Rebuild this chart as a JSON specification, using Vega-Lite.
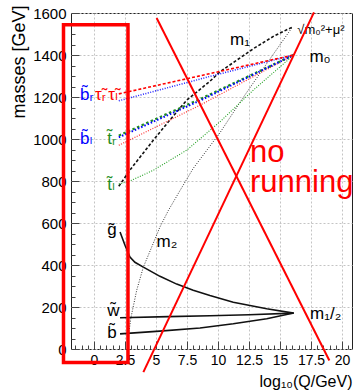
{
  "$schema": "https://vega.github.io/schema/vega-lite/v6.json",
  "width": 281,
  "height": 336,
  "autosize": {"type": "none"},
  "padding": {"left": 71, "top": 13, "right": 4, "bottom": 42},
  "config": {
    "view": {"stroke": "#222", "strokeWidth": 1},
    "font": "Liberation Sans, DejaVu Sans",
    "text": {"font": "Liberation Sans, DejaVu Sans"}
  },
  "datasets": {
    "curves": [
      {"s": "gluino", "x": 2.1, "y": 557}, {"s": "gluino", "x": 2.5, "y": 494}, {"s": "gluino", "x": 2.9, "y": 438},
      {"s": "gluino", "x": 3.3, "y": 413}, {"s": "gluino", "x": 3.98, "y": 390}, {"s": "gluino", "x": 5.32, "y": 346},
      {"s": "gluino", "x": 6.67, "y": 309}, {"s": "gluino", "x": 8.0, "y": 280}, {"s": "gluino", "x": 9.35, "y": 255},
      {"s": "gluino", "x": 11.23, "y": 223}, {"s": "gluino", "x": 13.93, "y": 192}, {"s": "gluino", "x": 16.1, "y": 171},
      {"s": "wino", "x": 2.1, "y": 149}, {"s": "wino", "x": 6.0, "y": 154}, {"s": "wino", "x": 9.35, "y": 158},
      {"s": "wino", "x": 12.5, "y": 163}, {"s": "wino", "x": 16.1, "y": 171},
      {"s": "bino", "x": 2.1, "y": 72}, {"s": "bino", "x": 5.3, "y": 85}, {"s": "bino", "x": 8.55, "y": 100},
      {"s": "bino", "x": 11.23, "y": 120}, {"s": "bino", "x": 13.93, "y": 144}, {"s": "bino", "x": 16.1, "y": 171},
      {"s": "m1", "x": 2.0, "y": 775}, {"s": "m1", "x": 3.0, "y": 860}, {"s": "m1", "x": 4.78, "y": 994},
      {"s": "m1", "x": 6.0, "y": 1082}, {"s": "m1", "x": 7.48, "y": 1185}, {"s": "m1", "x": 9.35, "y": 1275},
      {"s": "m1", "x": 10.16, "y": 1320}, {"s": "m1", "x": 12.85, "y": 1430}, {"s": "m1", "x": 14.5, "y": 1490},
      {"s": "m1", "x": 16.0, "y": 1533},
      {"s": "m2", "x": 2.72, "y": 0}, {"s": "m2", "x": 2.8, "y": 70}, {"s": "m2", "x": 2.96, "y": 144},
      {"s": "m2", "x": 3.44, "y": 279}, {"s": "m2", "x": 3.98, "y": 390}, {"s": "m2", "x": 4.65, "y": 485},
      {"s": "m2", "x": 5.32, "y": 581}, {"s": "m2", "x": 6.0, "y": 660}, {"s": "m2", "x": 6.94, "y": 755},
      {"s": "m2", "x": 8.0, "y": 860}, {"s": "m2", "x": 10.16, "y": 1030}, {"s": "m2", "x": 12.0, "y": 1195},
      {"s": "m2", "x": 14.0, "y": 1365}, {"s": "m2", "x": 16.0, "y": 1533},
      {"s": "taur", "x": 2.0, "y": 1215}, {"s": "taur", "x": 16.1, "y": 1400},
      {"s": "br", "x": 2.0, "y": 1182}, {"s": "br", "x": 9.35, "y": 1298}, {"s": "br", "x": 16.1, "y": 1400},
      {"s": "tr", "x": 2.0, "y": 1016}, {"s": "tr", "x": 8.55, "y": 1190}, {"s": "tr", "x": 16.1, "y": 1400},
      {"s": "bl", "x": 2.0, "y": 1008}, {"s": "bl", "x": 8.55, "y": 1183}, {"s": "bl", "x": 16.1, "y": 1400},
      {"s": "taul", "x": 2.0, "y": 970}, {"s": "taul", "x": 8.55, "y": 1161}, {"s": "taul", "x": 16.1, "y": 1400},
      {"s": "tl", "x": 2.0, "y": 785}, {"s": "tl", "x": 2.9, "y": 800}, {"s": "tl", "x": 4.78, "y": 851},
      {"s": "tl", "x": 7.48, "y": 947}, {"s": "tl", "x": 10.16, "y": 1082}, {"s": "tl", "x": 12.85, "y": 1233},
      {"s": "tl", "x": 16.1, "y": 1400}
    ],
    "cross": [
      {"line": "a", "x": 5.05, "y": 1576}, {"line": "a", "x": 18.98, "y": -55},
      {"line": "b", "x": 3.98, "y": -110}, {"line": "b", "x": 17.74, "y": 1603}
    ],
    "box": [{"x1": -2.46, "x2": 2.74, "y1": -64, "y2": 1544}],
    "labels": [
      {"t": "m\u2081", "x": 10.97, "y": 1447, "kind": "param"},
      {"t": "m\u2080", "x": 17.37, "y": 1368, "kind": "param"},
      {"t": "m\u2082", "x": 5.05, "y": 485, "kind": "param"},
      {"t": "m\u2081/\u2082", "x": 17.42, "y": 144, "kind": "param"},
      {"t": "g\u0303", "x": 1.07, "y": 541, "kind": "param"},
      {"t": "w\u0303", "x": 1.07, "y": 155, "kind": "param"},
      {"t": "b\u0303", "x": 1.07, "y": 51, "kind": "param"},
      {"t": "b\u0303\u1d63", "x": -1.13, "y": 1185, "kind": "sbottom"},
      {"t": "\u03c4\u0303\u1d63", "x": 0.08, "y": 1185, "kind": "stau"},
      {"t": "\u03c4\u0303\u2097", "x": 1.15, "y": 1185, "kind": "stau"},
      {"t": "b\u0303\u2097", "x": -1.13, "y": 978, "kind": "sbottom"},
      {"t": "t\u0303\u1d63", "x": 1.07, "y": 978, "kind": "stop"},
      {"t": "t\u0303\u2097", "x": 1.07, "y": 756, "kind": "stop"}
    ],
    "sqrtlabel": [
      {"t": "\u221am\u2080\u00b2+\u03bc\u00b2", "x": 16.4, "y": 1500}
    ],
    "note": [
      {"t": "no", "x": 12.58, "y": 889},
      {"t": "running", "x": 12.58, "y": 746}
    ]
  },
  "layer": [
    {
      "data": {"name": "curves"},
      "transform": [{"filter": {"field": "s", "oneOf": ["gluino", "wino", "bino"]}}],
      "mark": {"type": "line", "color": "#111", "strokeWidth": 1.6},
      "encoding": {
        "x": {"field": "x", "type": "quantitative", "scale": {"domain": [-1.855, 20.806], "nice": false, "zero": false},
          "axis": {"orient": "bottom", "values": [0, 2.5, 5, 7.5, 10, 12.5, 15, 17.5, 20], "labelExpr": "'' + datum.value",
            "grid": true, "gridColor": "#c4c4c4", "gridDash": [2, 2], "ticks": false, "domain": false,
            "labelFontSize": 14, "labelPadding": 4, "labelColor": "#000", "labelFlush": false, "labelOverlap": false,
            "title": "log\u2081\u2080(Q/GeV)", "titleFontSize": 16, "titleFontWeight": "normal", "titleColor": "#000",
            "titleAnchor": "end", "titleAlign": "right", "titleX": 281, "titleY": 37, "titleBaseline": "alphabetic"}},
        "y": {"field": "y", "type": "quantitative", "scale": {"domain": [0, 1600], "nice": false, "zero": false},
          "axis": {"orient": "left", "values": [0, 200, 400, 600, 800, 1000, 1200, 1400, 1600], "labelExpr": "'' + datum.value",
            "grid": true, "gridColor": "#c4c4c4", "gridDash": [2, 2], "ticks": false, "domain": false,
            "labelFontSize": 15, "labelPadding": 5, "labelColor": "#000", "labelFlush": false, "labelOverlap": false,
            "title": "masses [GeV]", "titleFontSize": 18, "titleFontWeight": "normal", "titleColor": "#000",
            "titleAnchor": "end", "titleAlign": "right", "titleAngle": -90, "titleX": -47, "titleY": -8, "titleBaseline": "alphabetic"}},
        "detail": {"field": "s"}
      }
    },
    {
      "data": {"name": "curves"},
      "transform": [{"filter": {"field": "s", "equal": "m1"}}],
      "mark": {"type": "line", "color": "#111", "strokeWidth": 1.6, "strokeDash": [3, 2]},
      "encoding": {
        "x": {"field": "x", "type": "quantitative", "axis": null},
        "y": {"field": "y", "type": "quantitative", "axis": null}
      }
    },
    {
      "data": {"name": "curves"},
      "transform": [{"filter": {"field": "s", "equal": "m2"}}],
      "mark": {"type": "line", "color": "#333", "strokeWidth": 1, "strokeDash": [1, 1.5]},
      "encoding": {
        "x": {"field": "x", "type": "quantitative", "axis": null},
        "y": {"field": "y", "type": "quantitative", "axis": null}
      }
    },
    {
      "data": {"name": "curves"},
      "transform": [{"filter": {"field": "s", "equal": "taul"}}],
      "mark": {"type": "line", "color": "#ff3030", "strokeWidth": 1.2, "strokeDash": [1, 1.5]},
      "encoding": {
        "x": {"field": "x", "type": "quantitative", "axis": null},
        "y": {"field": "y", "type": "quantitative", "axis": null}
      }
    },
    {
      "data": {"name": "curves"},
      "transform": [{"filter": {"field": "s", "equal": "tl"}}],
      "mark": {"type": "line", "color": "#22a022", "strokeWidth": 1.1, "strokeDash": [1, 1.5]},
      "encoding": {
        "x": {"field": "x", "type": "quantitative", "axis": null},
        "y": {"field": "y", "type": "quantitative", "axis": null}
      }
    },
    {
      "data": {"name": "curves"},
      "transform": [{"filter": {"field": "s", "equal": "tr"}}],
      "mark": {"type": "line", "color": "#1f8f1f", "strokeWidth": 2.2, "strokeDash": [2.5, 2.5]},
      "encoding": {
        "x": {"field": "x", "type": "quantitative", "axis": null},
        "y": {"field": "y", "type": "quantitative", "axis": null}
      }
    },
    {
      "data": {"name": "curves"},
      "transform": [{"filter": {"field": "s", "equal": "bl"}}],
      "mark": {"type": "line", "color": "#0000ff", "strokeWidth": 2, "strokeDash": [1.5, 2]},
      "encoding": {
        "x": {"field": "x", "type": "quantitative", "axis": null},
        "y": {"field": "y", "type": "quantitative", "axis": null}
      }
    },
    {
      "data": {"name": "curves"},
      "transform": [{"filter": {"field": "s", "equal": "br"}}],
      "mark": {"type": "line", "color": "#2020ff", "strokeWidth": 1.5, "strokeDash": [1, 1.5]},
      "encoding": {
        "x": {"field": "x", "type": "quantitative", "axis": null},
        "y": {"field": "y", "type": "quantitative", "axis": null}
      }
    },
    {
      "data": {"name": "curves"},
      "transform": [{"filter": {"field": "s", "equal": "taur"}}],
      "mark": {"type": "line", "color": "#ff0000", "strokeWidth": 1.6, "strokeDash": [3, 2]},
      "encoding": {
        "x": {"field": "x", "type": "quantitative", "axis": null},
        "y": {"field": "y", "type": "quantitative", "axis": null}
      }
    },
    {
      "data": {"name": "labels"},
      "mark": {"type": "text", "align": "left", "baseline": "alphabetic", "fontSize": 17},
      "encoding": {
        "x": {"field": "x", "type": "quantitative", "axis": null},
        "y": {"field": "y", "type": "quantitative", "axis": null},
        "text": {"field": "t"},
        "color": {"field": "kind", "type": "nominal", "legend": null,
          "scale": {"domain": ["param", "sbottom", "stau", "stop"], "range": ["#000000", "#0000ff", "#ff0000", "#1f8f1f"]}}
      }
    },
    {
      "data": {"name": "sqrtlabel"},
      "mark": {"type": "text", "align": "left", "baseline": "alphabetic", "fontSize": 13, "color": "#000"},
      "encoding": {
        "x": {"field": "x", "type": "quantitative", "axis": null},
        "y": {"field": "y", "type": "quantitative", "axis": null},
        "text": {"field": "t"}
      }
    },
    {
      "data": {"name": "cross"},
      "mark": {"type": "line", "color": "#ff0000", "strokeWidth": 2},
      "encoding": {
        "x": {"field": "x", "type": "quantitative",
          "axis": {"orient": "bottom", "values": [0, 2.5, 5, 7.5, 10, 12.5, 15, 17.5, 20], "labels": false, "grid": false,
            "domain": false, "title": null, "ticks": true, "tickSize": -8, "tickColor": "#444", "tickWidth": 1}},
        "y": {"field": "y", "type": "quantitative",
          "axis": {"orient": "left", "values": [0, 200, 400, 600, 800, 1000, 1200, 1400, 1600], "labels": false, "grid": false,
            "domain": false, "title": null, "ticks": true, "tickSize": -8, "tickColor": "#444", "tickWidth": 1}},
        "detail": {"field": "line"}
      }
    },
    {
      "data": {"name": "box"},
      "mark": {"type": "rect", "filled": false, "color": "#ff0000", "strokeWidth": 3.5},
      "encoding": {
        "x": {"field": "x1", "type": "quantitative",
          "axis": {"orient": "bottom", "values": [-1.5, -1, -0.5, 0.5, 1, 1.5, 2, 3, 3.5, 4, 4.5, 5.5, 6, 6.5, 7, 8, 8.5, 9, 9.5, 10.5, 11, 11.5, 12, 13, 13.5, 14, 14.5, 15.5, 16, 16.5, 17, 18, 18.5, 19, 19.5, 20.5],
            "labels": false, "grid": false, "domain": false, "title": null, "ticks": true, "tickSize": -4, "tickColor": "#444", "tickWidth": 1}},
        "x2": {"field": "x2"},
        "y": {"field": "y1", "type": "quantitative",
          "axis": {"orient": "left", "values": [50, 100, 150, 250, 300, 350, 450, 500, 550, 650, 700, 750, 850, 900, 950, 1050, 1100, 1150, 1250, 1300, 1350, 1450, 1500, 1550],
            "labels": false, "grid": false, "domain": false, "title": null, "ticks": true, "tickSize": -4, "tickColor": "#444", "tickWidth": 1}},
        "y2": {"field": "y2"}
      }
    },
    {
      "data": {"name": "note"},
      "mark": {"type": "text", "align": "left", "baseline": "alphabetic", "fontSize": 31, "color": "#ff0000"},
      "encoding": {
        "x": {"field": "x", "type": "quantitative", "axis": null},
        "y": {"field": "y", "type": "quantitative", "axis": null},
        "text": {"field": "t"}
      }
    }
  ],
  "resolve": {"axis": {"x": "independent", "y": "independent"}, "scale": {"color": "independent"}}
}
